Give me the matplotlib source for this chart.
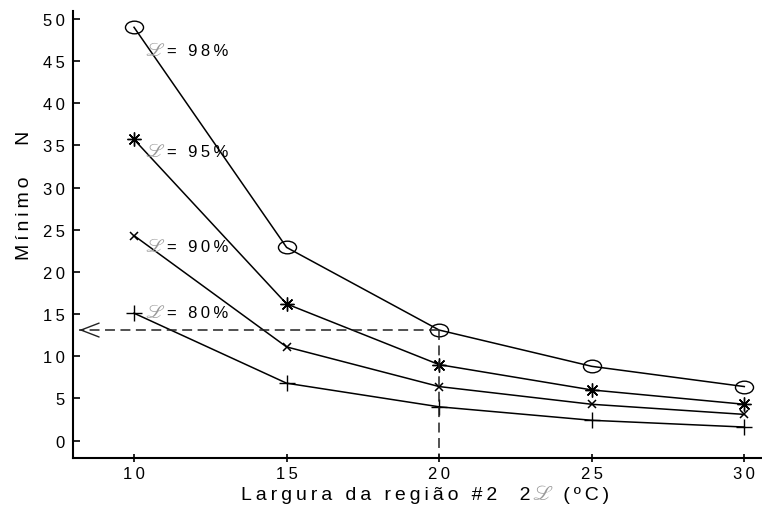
import matplotlib.pyplot as plt
from matplotlib.path import Path
from matplotlib.transforms import Affine2D
from matplotlib.offsetbox import TextArea, HPacker, AnnotationBbox
from matplotlib.ticker import FuncFormatter

plt.rcParams['font.family'] = ['Liberation Sans', 'DejaVu Sans']
plt.rcParams['mathtext.fontset'] = 'stix'

# Largura da região #2 (2L, ºC) e mínimo N para cada nível de confiança
largura = [10, 15, 20, 25, 30]
n_98 = [49.0, 22.9, 13.1, 8.8, 6.4]
n_95 = [35.7, 16.2, 9.0, 6.0, 4.3]
n_90 = [24.3, 11.1, 6.4, 4.3, 3.1]
n_80 = [15.1, 6.8, 4.0, 2.4, 1.6]
niveis = ['98%', '95%', '90%', '80%']
label_y = [46.3, 34.3, 23.05, 15.2]

TRACK = '\u2009'


def spaced(s):
    # letras espaçadas como no gráfico original
    return TRACK.join(s)


ellipse = Path.unit_circle().transformed(Affine2D().scale(1.0, 0.7))

fig = plt.figure(figsize=(7.62, 5.06), dpi=100)
ax = fig.add_axes([73 / 762, 1 - 459 / 506, 1 - 73 / 762, (459 - 12) / 506])

ax.plot(largura, n_98, color='k', lw=1.1, marker=ellipse, ms=13, mfc='none', mec='k', mew=1.0)
ax.plot(largura, n_95, color='k', lw=1.1, marker=(8, 2, 0), ms=10, mec='k', mew=1.0)
ax.plot(largura, n_90, color='k', lw=1.1, marker='x', ms=6, mec='k', mew=1.1)
ax.plot(largura, n_80, color='k', lw=1.1, marker='+', ms=12, mec='k', mew=1.0)

ax.set_xlim(8.0, 30.58)
ax.set_ylim(-2.07, 50.93)

# linhas de leitura tracejadas para 2L = 20
y_lido = n_98[2]
ax.plot([largura[2], 8.2], [y_lido, y_lido], color='#222222', lw=1.1, ls=(0, (6.5, 3.6)))
ax.plot([largura[2], largura[2]], [y_lido, -2.07], color='#222222', lw=1.1, ls=(0, (6.5, 3.6)))
ax.annotate('', xy=(8.2, y_lido), xytext=(8.35, y_lido),
            arrowprops=dict(arrowstyle='->,head_length=1.3,head_width=0.5',
                            lw=1.0, color='#222222', shrinkA=0, shrinkB=0))

for nivel, yl in zip(niveis, label_y):
    ax.text(10.36, yl, r'$\mathscr{L}$', fontsize=14, color='#999999', va='center', ha='left')
    ax.annotate(spaced('= ' + nivel), xy=(10.36, yl), xytext=(16, 0), textcoords='offset points',
                fontsize=12, va='center', ha='left')

ax.set_xticks(largura)
ax.set_yticks(range(0, 51, 5))
fmt = FuncFormatter(lambda v, p: spaced(f'{v:g}'))
ax.xaxis.set_major_formatter(fmt)
ax.yaxis.set_major_formatter(fmt)
ax.tick_params(axis='y', direction='in', length=5, width=1.2, labelsize=12, pad=6)
ax.tick_params(axis='x', direction='inout', length=6, width=1.2, labelsize=12, pad=3)

for side in ['top', 'right']:
    ax.spines[side].set_visible(False)
for side in ['left', 'bottom']:
    ax.spines[side].set_linewidth(1.5)

ax.set_ylabel(spaced('Mínimo   N'), fontsize=14)
ax.yaxis.set_label_coords(-0.058, 0.59)

# rótulo do eixo x com o L em cinza
partes = HPacker(children=[
    TextArea(spaced('Largura da região #2  2'), textprops=dict(fontsize=14)),
    TextArea(r'$\mathscr{L}$', textprops=dict(fontsize=15, color='#999999')),
    TextArea(spaced(' (ºC)'), textprops=dict(fontsize=14)),
], align='baseline', pad=0, sep=1)
ab = AnnotationBbox(partes, (0.511, -0.08), xycoords='axes fraction', frameon=False,
                    box_alignment=(0.5, 0.5), pad=0, annotation_clip=False)
ax.add_artist(ab)

fig.savefig('out.png', dpi=100)
